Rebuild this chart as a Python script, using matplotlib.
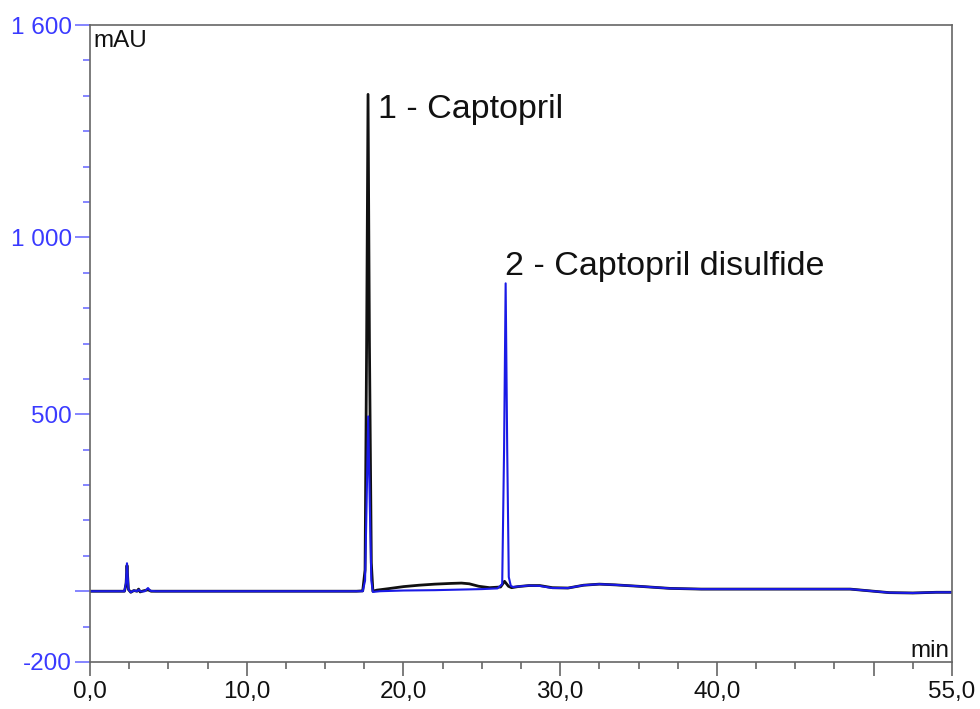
import matplotlib
matplotlib.use('Agg')
import matplotlib.pyplot as plt
from matplotlib.ticker import FixedLocator, MultipleLocator

plt.rcParams['font.family'] = ['Liberation Sans', 'DejaVu Sans']

# sample trace (black): time (min), absorbance (mAU)
t_black = [0, 2.2, 2.3, 2.36, 2.45, 2.6, 2.8, 3.0, 3.1, 3.2, 3.4, 3.7, 3.9, 10, 17.0,
           17.4, 17.55, 17.65, 17.74, 17.83, 17.95, 18.05, 18.3, 19, 20, 21, 22, 23,
           23.7, 24.2, 24.8, 25.5, 26.2, 26.45, 26.7, 26.9, 27.3, 28, 28.7, 29.5,
           30.5, 31.5, 32.5, 33.5, 35, 37, 39, 42, 45, 48.5, 49.5, 51, 52.5, 54, 55]
a_black = [0, 0, 20, 73, 5, -3, 2, 0, 6, -2, 1, 4, 0, 0, 0,
           1, 60, 700, 1404, 700, 80, 0, 3, 7, 13, 17, 20, 22,
           23, 21, 14, 10, 12, 28, 14, 10, 13, 16, 16, 10,
           9, 17, 20, 18, 14, 8, 6, 6, 6, 6, 2, -4, -5, -3, -3]

# standard trace (blue)
t_blue = [0, 2.2, 2.3, 2.36, 2.45, 2.6, 2.8, 3.0, 3.1, 3.25, 3.5, 3.7, 3.85, 4.2, 17.4,
          17.55, 17.65, 17.75, 17.85, 17.95, 18.05, 18.5, 20, 22, 23, 24, 25, 26,
          26.3, 26.42, 26.52, 26.62, 26.72, 26.85, 27, 28, 28.7, 29.5, 30.5, 31.5,
          32.5, 33.5, 35, 37, 39, 42, 45, 48.5, 49.5, 51, 52.5, 54, 55]
a_blue = [0, 0, 25, 79, 5, -3, 2, 0, 4, -1, 0, 9, 1, 0, 0,
          30, 250, 494, 250, 30, -2, 0, 2, 3, 4, 5, 6, 8,
          20, 400, 870, 400, 40, 15, 12, 16, 15, 9, 9, 17,
          20, 18, 14, 8, 6, 6, 6, 6, 2, -4, -5, -3, -3]

peak_labels = ['1 - Captopril', '2 - Captopril disulfide']
peak_label_pos = [(18.38, 1336), (26.48, 893)]

x_ticks = [0, 10, 20, 30, 40, 50, 55]
x_ticklabels = ['0,0', '10,0', '20,0', '30,0', '40,0', '', '55,0']
y_ticks = [-200, 0, 500, 1000, 1600]
y_ticklabels = ['-200', '', '500', '1 000', '1 600']

blue_lbl = '#3a3aff'
blue_tick = '#7070ff'
frame = '#666666'

fig = plt.figure(figsize=(9.8, 7.09), dpi=100)
ax = fig.add_axes([90 / 980, 1 - 662 / 709, 862 / 980, 637 / 709])

# black drawn wider underneath so the shared baseline reads dark
ax.plot(t_black, a_black, color='#111111', linewidth=2.0)
ax.plot(t_blue, a_blue, color='#1a1ae6', linewidth=1.5)

for txt, (x, y) in zip(peak_labels, peak_label_pos):
    ax.text(x, y, txt, fontsize=24.5, color='#111111', va='baseline', ha='left')

ax.set_xlim(0, 55)
ax.set_ylim(-200, 1600)

ax.xaxis.set_major_locator(FixedLocator(x_ticks))
ax.set_xticklabels(x_ticklabels)
ax.xaxis.set_minor_locator(MultipleLocator(2.5))
ax.yaxis.set_major_locator(FixedLocator(y_ticks))
ax.set_yticklabels(y_ticklabels)
ax.yaxis.set_minor_locator(MultipleLocator(100))

ax.tick_params(axis='x', which='major', length=10, width=1.2, color=frame,
               labelsize=17.5, labelcolor='#111111', pad=4)
ax.tick_params(axis='x', which='minor', length=5, width=1.2, color=frame)
ax.tick_params(axis='y', which='major', length=11, width=1.2, color=blue_tick,
               labelsize=17.5, labelcolor=blue_lbl, pad=2)
ax.tick_params(axis='y', which='minor', length=5, width=1.2, color=blue_tick)

for s in ax.spines.values():
    s.set_color(frame)
    s.set_linewidth(1.2)

ax.text(0.004, 0.965, 'mAU', transform=ax.transAxes, fontsize=17.5,
        color='#111111', va='baseline', ha='left')
ax.text(0.997, 0.008, 'min', transform=ax.transAxes, fontsize=17.5,
        color='#111111', va='baseline', ha='right')

fig.savefig('out.png', dpi=100)
